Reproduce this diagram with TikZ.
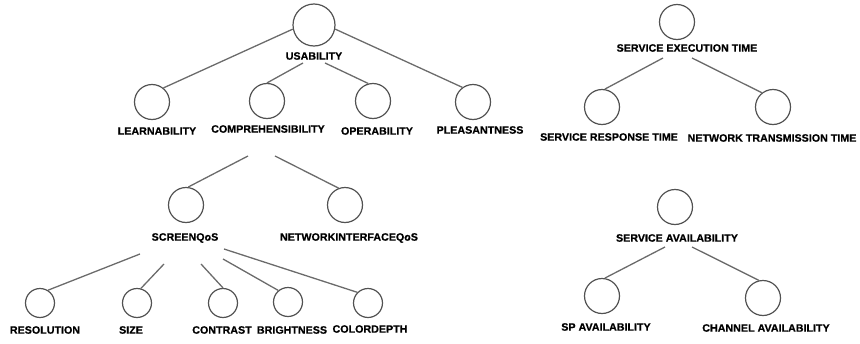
\documentclass[tikz,border=0pt]{standalone}
\usepackage{fontspec}
\setmainfont{Liberation Sans}[BoldFeatures={FakeBold=0.6}]
\usetikzlibrary{calc}
\begin{document}
\begin{tikzpicture}[x=1pt,y=-1pt,
  bubble/.style={circle,draw=black!68,line width=1.2pt,inner sep=0pt,fill=white},
  bigb/.style={bubble,minimum size=42pt},
  midb/.style={bubble,minimum size=35pt},
  smallb/.style={bubble,minimum size=29pt},
  lab/.style={font=\bfseries\fontsize{10.7}{12}\selectfont,inner sep=1pt},
  link/.style={draw=black!58,line width=1.3pt}]
\useasboundingbox (0,0) rectangle (860,343);

% usability tree
\node[bigb] (usab) at (314,25) {};
\node[lab] (usabT) at (314,56) {USABILITY};
\node[midb] (learn) at (152,102) {};
\node[lab] (learnT) at (157,131) {LEARNABILITY};
\node[midb] (comp) at (267,101) {};
\node[lab] (compT) at (268,129) {COMPREHENSIBILITY};
\node[midb] (oper) at (373,101) {};
\node[lab] (operT) at (377,131) {OPERABILITY};
\node[midb] (pleas) at (473,102) {};
\node[lab] (pleasT) at (480,130) {PLEASANTNESS};

\node[midb] (scr) at (186,205) {};
\node[lab] (scrT) at (185,238) {SCREENQoS};
\node[midb] (niq) at (345,205) {};
\node[lab] (niqT) at (349,238) {NETWORKINTERFACEQoS};

\node[smallb] (res) at (40,303) {};
\node[lab] (resT) at (45,330) {RESOLUTION};
\node[smallb] (size) at (137,303) {};
\node[lab] (sizeT) at (131,330) {SIZE};
\node[smallb] (contr) at (223,303) {};
\node[lab] (contrT) at (222,330) {CONTRAST};
\node[smallb] (bright) at (288,302) {};
\node[lab] (brightT) at (292,330) {BRIGHTNESS};
\node[smallb] (color) at (368,303) {};
\node[lab] (colorT) at (370,329) {COLORDEPTH};

% service execution time tree
\node[midb] (set) at (677,22) {};
\node[lab] (setT) at (687,48) {SERVICE EXECUTION TIME};
\node[midb] (srt) at (602,107) {};
\node[lab] (srtT) at (609,137) {SERVICE RESPONSE TIME};
\node[midb] (ntt) at (773,107) {};
\node[lab] (nttT) at (772,138) {NETWORK TRANSMISSION TIME};

% service availability tree
\node[midb] (sa) at (675,207) {};
\node[lab] (saT) at (677,238) {SERVICE AVAILABILITY};
\node[midb] (sp) at (602,296) {};
\node[lab] (spT) at (606,327) {SP AVAILABILITY};
\node[midb] (ca) at (763,298) {};
\node[lab] (caT) at (766,328) {CHANNEL AVAILABILITY};

% connectors
\draw[link] (usab.191) -- (learn.51);
\draw[link] (usab.-11) -- (pleas.126);
\draw[link] ($(usabT.south)+(-11,2)$) -- (comp.90);
\draw[link] ($(usabT.south)+(11,2)$) -- (oper.105);

\draw[link] ($(compT.south)+(-20,22)$) -- (scr.83);
\draw[link] ($(compT.south)+(7,22)$) -- (niq.111);

\draw[link] ($(scrT.south)+(-45,10)$) -- (res.58);
\draw[link] ($(scrT.south)+(-21,20)$) -- (size.75);
\draw[link] ($(scrT.south)+(16,20)$) -- (contr.90);
\draw[link] ($(scrT.south)+(38,15)$) -- (bright.130);
\draw[link] ($(scrT.south)+(39,5)$) -- (color.135);

\draw[link] ($(setT.south)+(-24,5)$) -- (srt.81);
\draw[link] ($(setT.south)+(5,5)$) -- (ntt.128);

\draw[link] ($(saT.south)+(-12,4)$) -- (sp.81);
\draw[link] ($(saT.south)+(15,4)$) -- (ca.103);
\end{tikzpicture}
\end{document}
